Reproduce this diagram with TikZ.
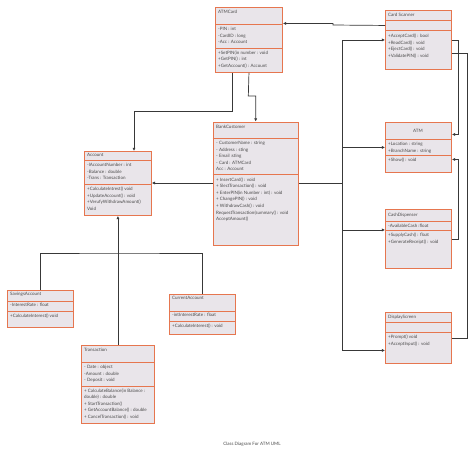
\documentclass[tikz,border=0pt]{standalone}
\usepackage{fontspec}
\setmainfont{Lato}
\usetikzlibrary{arrows.meta}

\definecolor{boxfill}{HTML}{E9E5EA}
\definecolor{boxline}{HTML}{E6764F}
\definecolor{textgrey}{HTML}{4A4A4A}
\definecolor{wiregrey}{HTML}{383838}

\tikzset{
  classbox/.style={draw=boxline, fill=boxfill, line width=0.9pt, anchor=north west, inner sep=0pt},
  classsep/.style={draw=boxline, line width=0.9pt},
  classtext/.style={anchor=north west, inner sep=0pt, align=left, text=textgrey,
    font=\fontsize{4.5}{6.6}\selectfont},
  wire/.style={draw=wiregrey, line width=0.7pt},
  assoc/.style={wire, -{Latex[length=3.2pt,width=3.2pt]}}
}

\begin{document}
\begin{tikzpicture}[x=1pt,y=-1pt]

    \useasboundingbox[fill=white] (0,0) rectangle (474,459);

    \node[classbox, minimum width=67pt, minimum height=65pt] (atmcard) at (215,7) {};
    \draw[classsep] (215,24) -- (282,24);
    \draw[classsep] (215,48) -- (282,48);
    \node[classtext] (atmcard t) at (218,10) {ATMCard};
    \node[classtext] (atmcard a) at (218,27) {-PIN : int\\-CardID : long\\-Acc : Account};
    \node[classtext] (atmcard m) at (218,50.5) {+SetPIN(in number : void\\+GetPIN() : int\\+GetAccount() : Account};

    \node[classbox, minimum width=66pt, minimum height=59pt] (cardscanner) at (385,10) {};
    \draw[classsep] (385,20) -- (451,20);
    \draw[classsep] (385,30) -- (451,30);
    \node[classtext] (cardscanner t) at (388,12.5) {Card Scanner};
    \node[classtext] (cardscanner m) at (388,34) {+AcceptCard() : bool\\+ReadCard() : void\\+EjectCard() : void\\+ValidatePIN() : void};

    \node[classbox, minimum width=66pt, minimum height=50pt] (atm) at (385,122) {};
    \draw[classsep] (385,139) -- (451,139);
    \draw[classsep] (385,155) -- (451,155);
    \node[classtext, anchor=center] (atm t) at (418,131) {ATM};
    \node[classtext] (atm a) at (388,142) {+Location : string\\+BranchName : string};
    \node[classtext] (atm m) at (388,158) {+Show() : void};

    \node[classbox, minimum width=85.5pt, minimum height=123pt] (bankcustomer) at (212.5,121.5) {};
    \draw[classsep] (212.5,138) -- (298,138);
    \draw[classsep] (212.5,174) -- (298,174);
    \node[classtext] (bankcustomer t) at (216,125) {BankCustomer};
    \node[classtext] (bankcustomer a) at (216,141) {- CustomerName : string\\- Address : sting\\- Email :sting\\- Card : ATMCard\\Acc : Account};
    \node[classtext] (bankcustomer m) at (216,177.5) {+ InsertCard() : void\\+ SlectTransaction() : void\\+ EnterPIN(in Number : int) : void\\+ ChangePIN() : void\\+ WithdrawCash() : void\\RequestTransaction(summary() : void\\AcceptAmount()};

    \node[classbox, minimum width=67pt, minimum height=64pt] (account) at (84,151) {};
    \draw[classsep] (84,160) -- (151,160);
    \draw[classsep] (84,184) -- (151,184);
    \node[classtext] (account t) at (87,153.5) {Account};
    \node[classtext] (account a) at (87,163) {-lAccountNumber : int\\-Balance : double\\-Trans : Transaction};
    \node[classtext] (account m) at (87,187) {+CalculateIntrest() void\\+UpdateAccount() : void\\+VerufyWithdrawAmount()\\Void};

    \node[classbox, minimum width=66pt, minimum height=59pt] (cashdispenser) at (385,209) {};
    \draw[classsep] (385,221) -- (451,221);
    \draw[classsep] (385,230) -- (451,230);
    \node[classtext] (cashdispenser t) at (388,212.5) {CashDispenser};
    \node[classtext] (cashdispenser a) at (388,223.5) {-AvailableCash :float};
    \node[classtext] (cashdispenser m) at (388,233) {+SupplyCash() : float\\+GenerateReceipt() : void};

    \node[classbox, minimum width=66pt, minimum height=51pt] (displayscreen) at (385,312) {};
    \draw[classsep] (385,322) -- (451,322);
    \draw[classsep] (385,332) -- (451,332);
    \node[classtext] (displayscreen t) at (388,314.5) {DisplayScreen};
    \node[classtext] (displayscreen m) at (388,335) {+Prompt() void\\+AcceptInput() : void};

    \node[classbox, minimum width=66pt, minimum height=37pt] (savings) at (7,290) {};
    \draw[classsep] (7,301) -- (73,301);
    \draw[classsep] (7,311) -- (73,311);
    \node[classtext] (savings t) at (10,292.5) {SavingsAccount};
    \node[classtext] (savings a) at (10,303) {-InterestRate : float};
    \node[classtext] (savings m) at (10,313.5) {+CalculateInterest() void};

    \node[classbox, minimum width=66pt, minimum height=40pt] (current) at (169,294) {};
    \draw[classsep] (169,311) -- (235,311);
    \draw[classsep] (169,321) -- (235,321);
    \node[classtext] (current t) at (172,296.5) {CurrentAccount};
    \node[classtext] (current a) at (172,313.5) {-intInterestRate : float};
    \node[classtext] (current m) at (172,323.5) {+CalculateInterest() : void};

    \node[classbox, minimum width=73pt, minimum height=78pt] (transaction) at (81,345) {};
    \draw[classsep] (81,362) -- (154,362);
    \draw[classsep] (81,386) -- (154,386);
    \node[classtext] (transaction t) at (84,347.5) {Transaction};
    \node[classtext] (transaction a) at (84,365) {- Date : object\\-Amount : double\\- Deposit : void};
    \node[classtext] (transaction m) at (84,388.5) {+ CalculateBalance(in Balance :\\double) : double\\+ StartTransaction()\\+ GetAccountBalance() : double\\+ CancelTransaction() : void};

    \node[classtext, anchor=center] (caption) at (252,444) {Class Diagram For ATM UML};

    \coordinate (b1) at (134,111);
    \coordinate (b2) at (248.3,96);
    \coordinate (r1) at (0,183);
    \coordinate (j1) at (333,25);
    \coordinate (trunk) at (342,183);
    \coordinate (r2) at (458,0);
    \coordinate (r3) at (467,0);
    \coordinate (acctree) at (117.5,253);

      \draw[assoc] ([xshift=-16.3pt]atmcard.south) |- (b1) -- (b1 |- account.north);
      \draw[assoc] (atmcard.south) -- (b2) -| (bankcustomer.north);
      \draw[assoc] (bankcustomer.west |- r1) -- (account.east |- r1);
      \draw[assoc] ([yshift=14.5pt]cardscanner.west) -- (j1) |- ([yshift=16.5pt]atmcard.east);

      \draw[wire] (bankcustomer.east |- trunk) -- (trunk);
      \draw[assoc] (trunk) |- (cardscanner.west);
      \draw[assoc] (trunk) |- (atm.west);
      \draw[assoc] (trunk) |- ([yshift=9pt]cashdispenser.west);
      \draw[assoc] (trunk) |- ([yshift=-12.5pt]displayscreen.west);

      \draw[assoc] (cardscanner.east) -- (cardscanner.east -| r2) |- ([yshift=13pt]atm.east);
      \draw[assoc] (cashdispenser.east) -- (cashdispenser.east -| r2) |- ([yshift=-12pt]atm.east);
      \draw[wire] ([yshift=-13.5pt]cardscanner.east) -| (r3 |- displayscreen.east) -- (displayscreen.east);

      \draw[assoc] (transaction.north) -- (account.south);
      \draw[wire] (savings.north) |- (acctree) -| (current.north);
  \end{tikzpicture}
\end{document}
